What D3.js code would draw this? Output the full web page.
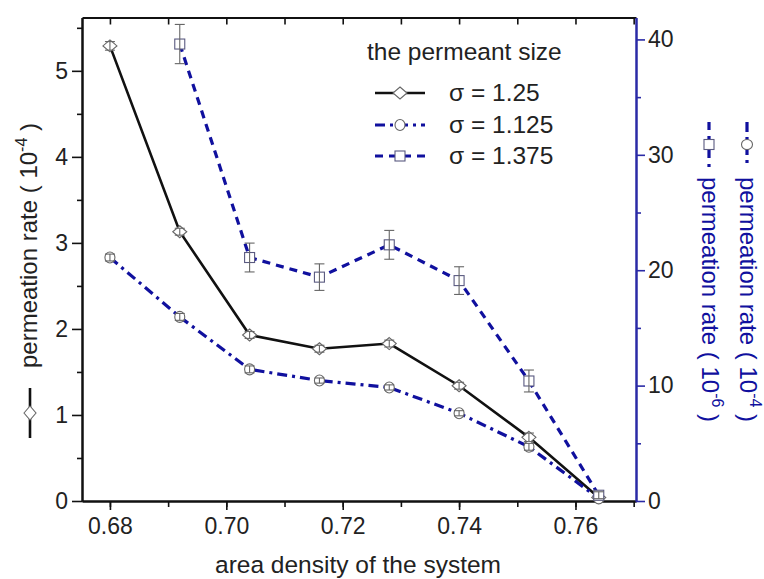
<!DOCTYPE html>
<html>
<head>
<meta charset="utf-8">
<script src="https://cdn.jsdelivr.net/npm/d3@7"></script>
<style>
  body { margin: 0; background: #fff; }
  text { font-family: "Liberation Sans", Arial, sans-serif; }
</style>
</head>
<body>
<div id="chart"></div>
<script>

// Data
var density = [0.680, 0.692, 0.704, 0.716, 0.728, 0.740, 0.752, 0.764];

var rate125  = [5.29, 3.13, 1.93, 1.77, 1.83, 1.34, 0.74, 0.04];   // 10^-4, left axis
var err125   = [0.05, 0.04, 0.04, 0.04, 0.04, 0.04, 0.05, 0.02];

var rate1125 = [2.83, 2.14, 1.53, 1.40, 1.32, 1.02, 0.63, 0.03];   // 10^-4, left axis
var err1125  = [0.04, 0.04, 0.04, 0.03, 0.03, 0.03, 0.04, 0.02];

var density1375 = [0.692, 0.704, 0.716, 0.728, 0.740, 0.752, 0.764];
var rate1375 = [39.6, 21.1, 19.4, 22.2, 19.1, 10.4, 0.5];          // 10^-6, right axis
var err1375  = [1.7, 1.25, 1.15, 1.25, 1.2, 0.95, 0.3];

var xTicks = [0.68, 0.70, 0.72, 0.74, 0.76];
var leftTicks = [0, 1, 2, 3, 4, 5];
var rightTicks = [0, 10, 20, 30, 40];

var legendLabels = ["\u03c3 = 1.25", "\u03c3 = 1.125", "\u03c3 = 1.375"];


// Drawing area
var width = 764,
    height = 579;

var margin = { left: 82, top: 17.5, right: 128, bottom: 78 };
var plotW = width - margin.left - margin.right,
    plotH = height - margin.top - margin.bottom;

var blue = "#10109e",
    axisBlue = "#2a2aa6",
    markGrey = "#666";

var svg = d3.select("#chart").append("svg")
    .attr("width", width)
    .attr("height", height);

var x = d3.scaleLinear().domain([0.6752, 0.7704]).range([margin.left, margin.left + plotW]);
var yL = d3.scaleLinear().domain([0, 5.62]).range([margin.top + plotH, margin.top]);
var yR = d3.scaleLinear().domain([0, 41.9]).range([margin.top + plotH, margin.top]);


// Axes
function styleAxis(g, color) {
    g.select(".domain").attr("stroke", color).attr("stroke-width", 2);
    g.selectAll(".tick line").attr("stroke", color).attr("stroke-width", 1.6);
    g.selectAll(".tick text")
        .attr("fill", "#222")
        .style("font-size", "23px")
        .style("font-family", "Liberation Sans, Arial, sans-serif");
}

// minor ticks first so the major ones sit on top
svg.append("g")
    .attr("transform", "translate(0," + (margin.top + plotH) + ")")
    .call(d3.axisBottom(x).tickValues(d3.range(0.68, 0.771, 0.01)).tickSize(6).tickFormat("").tickSizeOuter(0))
    .call(function(g) { styleAxis(g, "#111"); });

svg.append("g")
    .attr("transform", "translate(0," + (margin.top + plotH) + ")")
    .call(d3.axisBottom(x).tickValues(xTicks).tickFormat(d3.format(".2f")).tickSize(9).tickSizeOuter(0).tickPadding(8))
    .call(function(g) { styleAxis(g, "#111"); });

// top frame with inward ticks
svg.append("g")
    .attr("transform", "translate(0," + margin.top + ")")
    .call(d3.axisBottom(x).tickValues(d3.range(0.68, 0.771, 0.01)).tickSize(7).tickFormat("").tickSizeOuter(0))
    .call(function(g) { styleAxis(g, "#111"); });

svg.append("g")
    .attr("transform", "translate(" + margin.left + ",0)")
    .call(d3.axisLeft(yL).tickValues(d3.range(0.5, 5.6, 1)).tickSize(5).tickFormat("").tickSizeOuter(0))
    .call(function(g) { styleAxis(g, "#111"); });

svg.append("g")
    .attr("transform", "translate(" + margin.left + ",0)")
    .call(d3.axisLeft(yL).tickValues(leftTicks).tickFormat(d3.format("d")).tickSize(10).tickSizeOuter(0).tickPadding(4))
    .call(function(g) { styleAxis(g, "#111"); });

svg.append("g")
    .attr("transform", "translate(" + (margin.left + plotW) + ",0)")
    .call(d3.axisRight(yR).tickValues([5, 15, 25, 35]).tickSize(5).tickFormat("").tickSizeOuter(0))
    .call(function(g) { styleAxis(g, axisBlue); });

svg.append("g")
    .attr("transform", "translate(" + (margin.left + plotW) + ",0)")
    .call(d3.axisRight(yR).tickValues(rightTicks).tickFormat(d3.format("d")).tickSize(9).tickSizeOuter(0).tickPadding(3))
    .call(function(g) { styleAxis(g, axisBlue); });


// Series
var series = [
    { xs: density, ys: rate125, err: err125, y: yL, color: "#111", width: 2.6, dash: null, mark: "diamond" },
    { xs: density, ys: rate1125, err: err1125, y: yL, color: blue, width: 3.2, dash: "10,5,3,5", mark: "circle" },
    { xs: density1375, ys: rate1375, err: err1375, y: yR, color: blue, width: 3.2, dash: "8,6", mark: "square" }
];

function drawMarker(g, type, cx, cy) {
    if (type === "diamond") {
        g.append("path")
            .attr("d", "M" + cx + "," + (cy - 6) + " L" + (cx + 7) + "," + cy + " L" + cx + "," + (cy + 6) + " L" + (cx - 7) + "," + cy + "Z")
            .attr("fill", "#fff").attr("stroke", markGrey).attr("stroke-width", 1.1);
    } else if (type === "circle") {
        g.append("ellipse")
            .attr("cx", cx).attr("cy", cy).attr("rx", 5).attr("ry", 5.5)
            .attr("fill", "#fff").attr("stroke", markGrey).attr("stroke-width", 1.1);
    } else {
        g.append("rect")
            .attr("x", cx - 5).attr("y", cy - 5).attr("width", 10).attr("height", 10)
            .attr("fill", "#fff").attr("stroke", "#5a5a80").attr("stroke-width", 1.1);
    }
}

series.forEach(function(s) {
    var pts = s.xs.map(function(d, i) { return [d, s.ys[i]]; });

    var line = d3.line()
        .x(function(d) { return x(d[0]); })
        .y(function(d) { return s.y(d[1]); });

    svg.append("path")
        .datum(pts)
        .attr("d", line)
        .attr("fill", "none")
        .attr("stroke", s.color)
        .attr("stroke-width", s.width)
        .attr("stroke-dasharray", s.dash);
});

// markers + error bars
series.forEach(function(s) {
    s.xs.forEach(function(d, i) {
        var cx = x(d), cy = s.y(s.ys[i]);
        var g = svg.append("g");
        var top = s.y(s.ys[i] + s.err[i]), bot = s.y(s.ys[i] - s.err[i]);
        drawMarker(g, s.mark, cx, cy);
        g.append("line").attr("x1", cx).attr("x2", cx).attr("y1", top).attr("y2", bot)
            .attr("stroke", markGrey).attr("stroke-width", 1.1);
        [top, bot].forEach(function(yy) {
            g.append("line").attr("x1", cx - 5).attr("x2", cx + 5).attr("y1", yy).attr("y2", yy)
                .attr("stroke", markGrey).attr("stroke-width", 1.1);
        });
    });
});


// Legend
var legend = svg.append("g").attr("class", "legend");

legend.append("text")
    .attr("x", 367).attr("y", 60)
    .style("font-size", "24.5px").attr("fill", "#222")
    .text("the permeant size");

var legendRows = [93, 125, 156];

series.forEach(function(s, i) {
    var yy = legendRows[i];
    legend.append("line")
        .attr("x1", 375).attr("x2", 425).attr("y1", yy).attr("y2", yy)
        .attr("stroke", s.color).attr("stroke-width", s.width)
        .attr("stroke-dasharray", s.dash);
    drawMarker(legend, s.mark, 400, yy);
    legend.append("text")
        .attr("x", 449).attr("y", yy + 8)
        .style("font-size", "24.5px").attr("fill", "#222")
        .text(legendLabels[i]);
});


// Axis titles
svg.append("text")
    .attr("x", 358).attr("y", 573)
    .attr("text-anchor", "middle")
    .style("font-size", "24.5px").attr("fill", "#222")
    .text("area density of the system");

function axisTitle(tx, ty, angle, s, exp, color, sampleLen, gap) {
    var g = svg.append("g").attr("transform", "translate(" + tx + "," + ty + ") rotate(" + angle + ")");
    g.append("line")
        .attr("x1", 0).attr("x2", sampleLen).attr("y1", -7).attr("y2", -7)
        .attr("stroke", s.color).attr("stroke-width", s.width)
        .attr("stroke-dasharray", s.dash);
    drawMarker(g, s.mark, sampleLen / 2, -7);
    var t = g.append("text")
        .attr("x", sampleLen + gap).attr("y", 0)
        .style("font-size", "24px").attr("fill", color);
    t.append("tspan").text("permeation rate ( 10");
    t.append("tspan").attr("dy", -10).style("font-size", "16px").text(exp);
    t.append("tspan").attr("dy", 10).text(" )");
}

axisTitle(37, 438, -90, series[0], "-4", "#222", 50, 20);
axisTitle(702, 122, 90, series[2], "-6", blue, 45, 10);
axisTitle(740, 122, 90, series[1], "-4", blue, 45, 10);

</script>
</body>
</html>
